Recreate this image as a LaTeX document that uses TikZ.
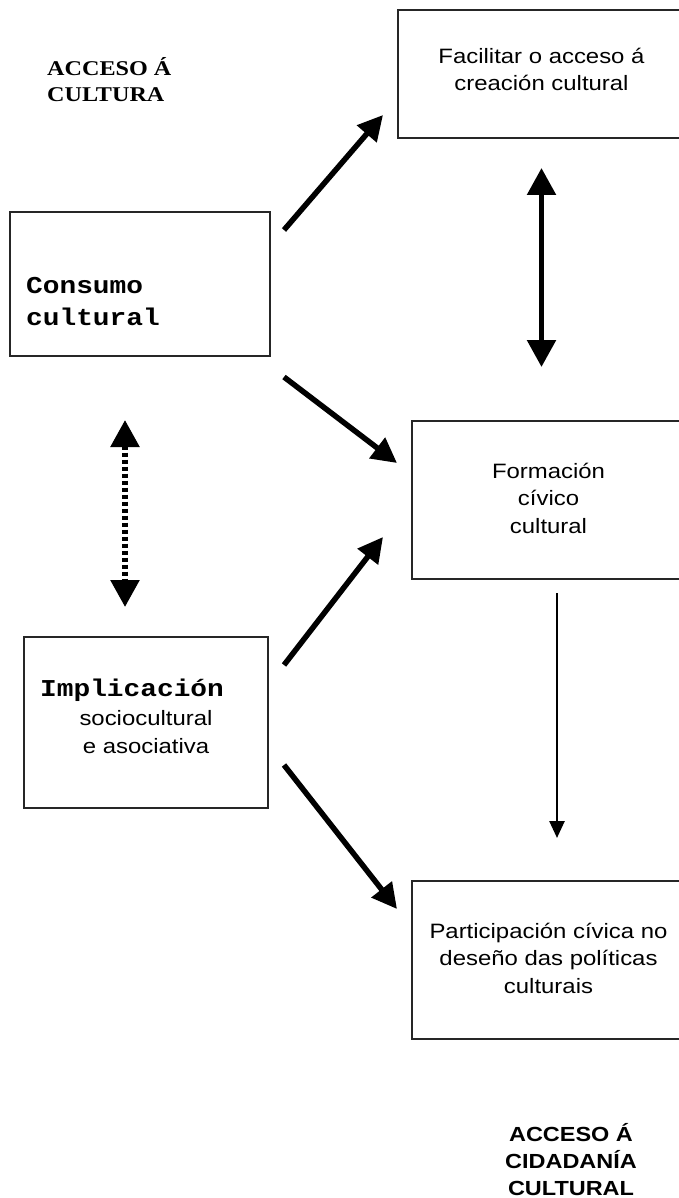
\documentclass[tikz,border=0pt]{standalone}
\usepackage{fontspec}
\setmainfont{Liberation Sans}[FakeStretch=1.15]
\setmonofont{Liberation Mono}[FakeStretch=1.15]
\newfontfamily\titlefont{Liberation Serif}[FakeStretch=1.15]
\usetikzlibrary{arrows.meta,positioning,calc}
\tikzset{
    cult-box/.style={
        rectangle,
        draw=black!85,
        line width=2pt,
        inner sep=0pt,
        outer sep=0pt,
        anchor=north west
    },
    cult-text/.style={
        align=center,
        inner sep=0pt,
        font=\fontsize{20.8}{27.5}\selectfont
    },
    cult-mono/.style={
        align=left,
        inner sep=0pt,
        font=\fontsize{24.2}{32}\selectfont\ttfamily\bfseries
    },
    big-arrow/.style={
        line width=5.5pt,
        -{Triangle[length=25pt,width=25pt]}
    },
    dbl-arrow/.style={
        line width=5.5pt,
        {Triangle[length=27pt,width=28pt]}-{Triangle[length=27pt,width=28pt]}
    },
    dot-arrow/.style={
        line width=5.5pt,
        dash pattern=on 4pt off 3pt,
        {Triangle[length=27pt,width=28pt]}-{Triangle[length=27pt,width=28pt]}
    },
    thin-arrow/.style={
        line width=2.5pt,
        -{Triangle[length=17pt,width=15pt]}
    }
}

\begin{document}
\begin{tikzpicture}[x=1pt,y=-1pt]
    \useasboundingbox (0,0) rectangle (679,1198);

    % boxes
    \node[cult-box,minimum width=287pt,minimum height=128pt] (facil) at (398,10) {};
    \node[cult-box,minimum width=260pt,minimum height=144pt] (consumo) at (10,212) {};
    \node[cult-box,minimum width=273pt,minimum height=158pt] (formacion) at (412,421) {};
    \node[cult-box,minimum width=244pt,minimum height=171pt] (implic) at (24,637) {};
    \node[cult-box,minimum width=273pt,minimum height=158pt] (partic) at (412,881) {};

    \node[cult-text,anchor=base] (facil-txt) at ([shift={(0,81)}]facil.north) {Facilitar o acceso á\\creación cultural};
    \node[cult-mono,anchor=base west] (consumo-txt) at ([shift={(16,113)}]consumo.north west) {Consumo\\cultural};
    \node[cult-text,anchor=base] (form-txt) at ([shift={(0,112)}]formacion.north) {Formación\\cívico\\cultural};
    \node[cult-mono,anchor=base west] (implic-title) at ([shift={(16,59)}]implic.north west) {Implicación};
    \node[cult-text,anchor=base] (implic-txt) at ([shift={(0,116)}]implic.north) {sociocultural\\e asociativa};
    \node[cult-text,anchor=base] (partic-txt) at ([shift={(0,112)}]partic.north) {Participación cívica no\\deseño das políticas\\culturais};

    % titles
    \node[align=left,inner sep=0pt,anchor=base west,font=\fontsize{21}{26}\selectfont\titlefont\bfseries] (acc-cult) at (47,102) {ACCESO Á\\CULTURA};
    \node[cult-text,anchor=base,font=\fontsize{20.4}{27}\selectfont\bfseries] (acc-cidad) at (571,1195) {ACCESO Á\\CIDADANÍA\\CULTURAL};

    % arrows
    \draw[big-arrow] ([shift={(14,18)}]consumo.north east) -- ([shift={(-15,-23)}]facil.south west);
    \draw[big-arrow] ([shift={(14,21)}]consumo.south east) -- ([shift={(-15,42)}]formacion.north west);
    \draw[big-arrow] ([shift={(16,28)}]implic.north east) -- ([shift={(-29,-42)}]formacion.south west);
    \draw[big-arrow] ([shift={(16,-43)}]implic.south east) -- ([shift={(-15,28)}]partic.north west);
    \draw[dbl-arrow] ([shift={(0,30)}]facil.south) -- ([shift={(-7,-54)}]formacion.north);
    \coordinate (dot-top) at ([shift={(-15,64)}]consumo.south);
    \draw[dot-arrow] (dot-top) -- ([shift={(0,-30)}]dot-top |- implic.north);
    \draw[thin-arrow] ([shift={(8.5,14)}]formacion.south) -- ([shift={(8.5,-43)}]partic.north);
\end{tikzpicture}
\end{document}
